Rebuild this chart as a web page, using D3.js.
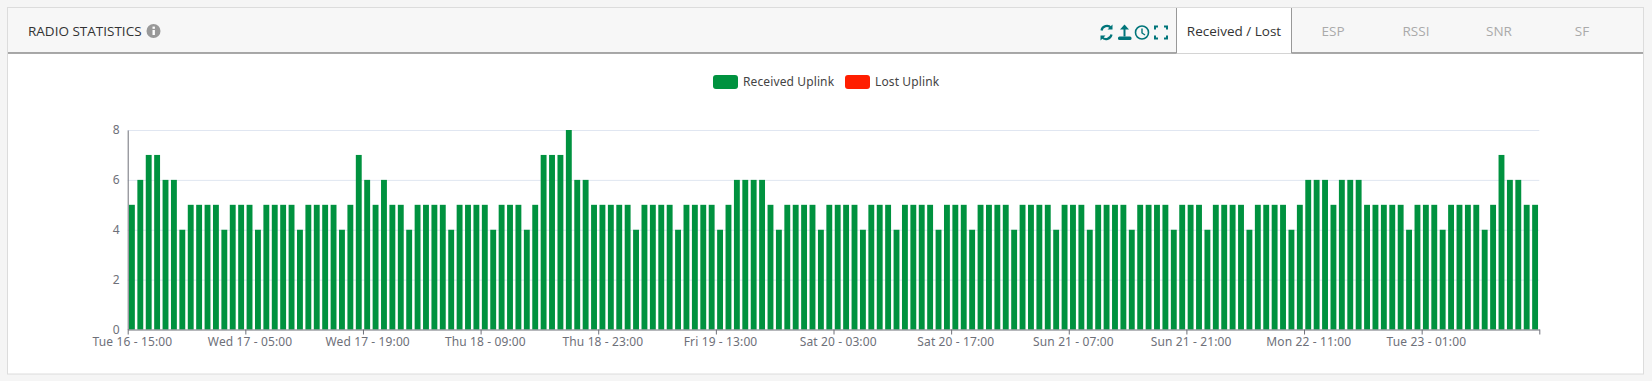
<!DOCTYPE html>
<html>
<head>
<meta charset="utf-8">
<title>Radio statistics</title>
<script src="https://cdn.jsdelivr.net/npm/d3@7"></script>
<style>
  html, body { margin: 0; padding: 0; background: #f5f5f5; }
  svg { display: block; }
  .hdr { font-family: "Open Sans", sans-serif; font-size: 13.5px; }
  .axis text, .legend text { font-family: "Noto Sans", sans-serif; font-size: 12px; letter-spacing: 0.12px; fill: #6e7079; }
  .legend text { fill: #444; }
</style>
</head>
<body>
<div id="chart"></div>
<script>
// Uplink messages per hour (168 hourly bars).
const received = [
  5,6,7,7,6,6,4,5,5,5,5,4,5,5,5,4,5,5,5,5,4,5,5,5,5,4,5,7,
  6,5,6,5,5,4,5,5,5,5,4,5,5,5,5,4,5,5,5,4,5,7,7,7,8,6,6,5,
  5,5,5,5,4,5,5,5,5,4,5,5,5,5,4,5,6,6,6,6,5,4,5,5,5,5,4,5,
  5,5,5,4,5,5,5,4,5,5,5,5,4,5,5,5,4,5,5,5,5,4,5,5,5,5,4,5,
  5,5,4,5,5,5,5,4,5,5,5,5,4,5,5,5,4,5,5,5,5,4,5,5,5,5,4,5,
  6,6,6,5,6,6,6,5,5,5,5,5,4,5,5,5,4,5,5,5,5,4,5,7,6,6,5,5
];
const lost = received.map(() => 0);
const tickLabels = ['Tue 16 - 15:00','Wed 17 - 05:00','Wed 17 - 19:00','Thu 18 - 09:00','Thu 18 - 23:00','Fri 19 - 13:00','Sat 20 - 03:00','Sat 20 - 17:00','Sun 21 - 07:00','Sun 21 - 21:00','Mon 22 - 11:00','Tue 23 - 01:00',''];
const yTicks = [0,2,4,6,8];
const legendItems = [
  { name: 'Received Uplink', color: '#00923f' },
  { name: 'Lost Uplink', color: '#ff1e00' }
];
const tabs = ['Received / Lost','ESP','RSSI','SNR','SF'];

const width = 1652, height = 381;
const margin = { top: 130, right: 112.7, bottom: 51.5, left: 127.7 };
const svg = d3.select('#chart').append('svg').attr('width', width).attr('height', height);

// Panel and header strip
svg.append('rect').attr('x', 7.5).attr('y', 7.5).attr('width', 1636).attr('height', 366.5).attr('fill', '#fff').attr('stroke', '#dcdcdc');
svg.append('rect').attr('x', 8).attr('y', 8).attr('width', 1635).attr('height', 45).attr('fill', '#f7f7f7');
svg.append('line').attr('x1', 8).attr('x2', 1643).attr('y1', 53).attr('y2', 53).attr('stroke', '#555').attr('stroke-width', 1);
svg.append('text').attr('class', 'hdr').attr('x', 28).attr('y', 36).attr('fill', '#333').text('RADIO STATISTICS');
svg.append('circle').attr('cx', 153.5).attr('cy', 31).attr('r', 7).attr('fill', '#999');
svg.append('rect').attr('x', 152.5).attr('y', 30).attr('width', 2.4).attr('height', 5).attr('fill', '#fff');
svg.append('rect').attr('x', 152.5).attr('y', 26.6).attr('width', 2.4).attr('height', 2.2).attr('fill', '#fff');

// Active tab
svg.append('rect').attr('x', 1176.5).attr('y', 8).attr('width', 115).attr('height', 45.5).attr('fill', '#fff');
svg.append('path').attr('d', 'M1176.5,8V53M1291.5,8V53').attr('stroke', '#999').attr('fill', 'none');
const tabX = [1234, 1333, 1416, 1499, 1582];
svg.selectAll('.tab').data(tabs).enter().append('text').attr('class', 'hdr')
  .attr('x', (d, i) => tabX[i]).attr('y', 36).attr('text-anchor', 'middle')
  .attr('fill', (d, i) => i === 0 ? '#333' : '#aaa').text(d => d);

// Toolbar icons
const teal = '#00757a';
const icons = svg.append('g').attr('fill', 'none').attr('stroke', teal).attr('stroke-width', 2.2).attr('transform', 'translate(0,-1.5)');
icons.append('path').attr('d', 'M1101.5,32a5.5,5.5 0 0 1 9.6,-2.6M1111.5,36a5.5,5.5 0 0 1 -9.6,2.6');
icons.append('path').attr('d', 'M1112.5,26v5h-5ZM1100.5,42v-5h5Z').attr('fill', teal).attr('stroke', 'none');
icons.append('path').attr('d', 'M1124.5,38V30').attr('stroke-width', 2);
icons.append('path').attr('d', 'M1120,31l4.5,-5l4.5,5Z').attr('fill', teal).attr('stroke', 'none');
icons.append('rect').attr('x', 1118).attr('y', 38).attr('width', 13.5).attr('height', 3.5).attr('rx', 1.5).attr('fill', teal).attr('stroke', 'none');
icons.append('circle').attr('cx', 1142).attr('cy', 34).attr('r', 6.5).attr('stroke-width', 1.6);
icons.append('path').attr('d', 'M1142,30v4.5l3,2').attr('stroke-width', 1.4);
icons.append('path').attr('d', 'M1155,31v-3h3M1164,28h3v3M1167,37v3h-3M1158,40h-3v-3').attr('stroke-width', 2);

// Legend
const legendX = [713, 845];
const legend = svg.selectAll('.legend').data(legendItems).enter().append('g').attr('class', 'legend')
  .attr('transform', (d, i) => `translate(${legendX[i]},75)`);
legend.append('rect').attr('width', 25).attr('height', 14).attr('rx', 3).attr('fill', d => d.color);
legend.append('text').attr('x', 30).attr('y', 10.5).text(d => d.name);

// Scales: one band per hour, ticks sit on the band edges every 14 hours
const innerW = width - margin.left - margin.right;
const innerH = height - margin.top - margin.bottom;
const x = d3.scaleBand().domain(d3.range(received.length)).range([0, innerW]).paddingInner(0.3).paddingOuter(0.15);
const xTick = d3.scaleLinear().domain([0, received.length]).range([0, innerW]);
const y = d3.scaleLinear().domain([0, 8]).range([innerH, 0]);
const root = svg.append('g').attr('transform', `translate(${margin.left},${margin.top})`);

root.selectAll('.grid').data(yTicks.slice(1)).enter().append('line').attr('class', 'grid')
  .attr('x1', 0).attr('x2', innerW).attr('y1', d => y(d) + 0.5).attr('y2', d => y(d) + 0.5)
  .attr('stroke', '#e0e6f1');

root.selectAll('.bar').data(received).enter().append('rect').attr('class', 'bar')
  .attr('x', (d, i) => x(i)).attr('y', d => y(d)).attr('width', x.bandwidth()).attr('height', d => innerH - y(d))
  .attr('fill', legendItems[0].color);
root.selectAll('.lost').data(lost).enter().append('rect').attr('class', 'lost')
  .attr('x', (d, i) => x(i)).attr('y', (d, i) => y(received[i] + d)).attr('width', x.bandwidth()).attr('height', d => innerH - y(d))
  .attr('fill', legendItems[1].color);

const xAxis = root.append('g').attr('class', 'axis').attr('transform', `translate(0,${innerH})`)
  .call(d3.axisBottom(xTick).tickValues(d3.range(0, 169, 14)).tickFormat((d, i) => tickLabels[i]).tickSize(5).tickSizeOuter(0));
xAxis.selectAll('.domain, line').attr('stroke', '#6e7079');
xAxis.selectAll('text').attr('dx', innerW / received.length / 2).attr('y', 8);

const yAxis = root.append('g').attr('class', 'axis')
  .call(d3.axisLeft(y).tickValues(yTicks).tickSize(0).tickSizeOuter(0));
yAxis.select('.domain').attr('stroke', '#6e7079');
yAxis.selectAll('text').attr('x', -8);
</script>
</body>
</html>
